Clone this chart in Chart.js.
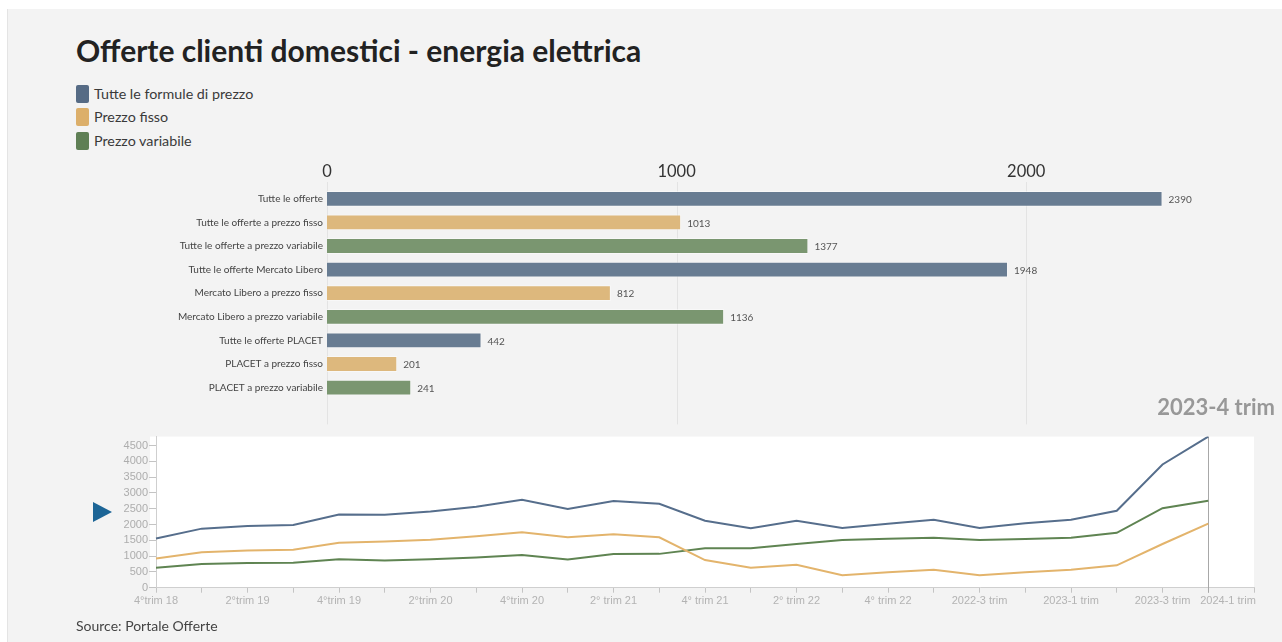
<!DOCTYPE html>
<html>
<head>
<meta charset="utf-8">
<script src="https://cdn.jsdelivr.net/npm/chart.js@4.4.1/dist/chart.umd.min.js"></script>
<style>
  html, body { margin: 0; padding: 0; background: #fff; width: 1282px; height: 642px; overflow: hidden; }
  body { position: relative; font-family: Lato, "Open Sans", sans-serif; color: #333; }
  #panel { position: absolute; left: 7px; top: 9px; width: 1275px; height: 633px; background: #f3f3f3; border-left: 1px solid #e4e4e4; }
  #title { position: absolute; left: 76px; top: 35px; font-size: 30px; font-weight: 700; line-height: 1; color: #222; white-space: nowrap; }
  .leg { position: absolute; left: 76px; height: 18px; font-size: 14.3px; line-height: 18px; color: #3a3a3a; white-space: nowrap; }
  .leg span { display: inline-block; width: 13px; height: 18px; border-radius: 2px; vertical-align: top; margin-right: 5px; }
  #period { position: absolute; right: 7px; top: 396px; font-size: 22px; font-weight: 700; line-height: 1; color: #989898; }
  #play { position: absolute; left: 93px; top: 502px; width: 0; height: 0; border-left: 19px solid #1c6596; border-top: 10px solid transparent; border-bottom: 10px solid transparent; }
  #source { position: absolute; left: 76px; top: 617px; font-size: 14px; line-height: 18px; color: #444; }
  #barBox { position: absolute; left: 0; top: 149px; width: 1282px; height: 285px; }
  #lineBox { position: absolute; left: 0; top: 429px; width: 1282px; height: 195px; }
</style>
</head>
<body>
<div id="panel"></div>
<div id="title">Offerte clienti domestici - energia elettrica</div>
<div class="leg" style="top:85px"><span style="background:#566b85"></span>Tutte le formule di prezzo</div>
<div class="leg" style="top:108px"><span style="background:#dcaf6a"></span>Prezzo fisso</div>
<div class="leg" style="top:132px"><span style="background:#5f7f55"></span>Prezzo variabile</div>
<div id="barBox"><canvas id="barChart"></canvas></div>
<div id="period">2023-4 trim</div>
<div id="play"></div>
<div id="lineBox"><canvas id="lineChart"></canvas></div>
<div id="source">Source: Portale Offerte</div>

<script>
// bar chart values (2023-4 trim)
const barCategories = [
  'Tutte le offerte',
  'Tutte le offerte a prezzo fisso',
  'Tutte le offerte a prezzo variabile',
  'Tutte le offerte Mercato Libero',
  'Mercato Libero a prezzo fisso',
  'Mercato Libero a prezzo variabile',
  'Tutte le offerte PLACET',
  'PLACET a prezzo fisso',
  'PLACET a prezzo variabile'
];
const barValues = [2390, 1013, 1377, 1948, 812, 1136, 442, 201, 241];
const barTicks = [0, 1000, 2000];

// timeline
const periods = [
  '4°trim 18', '1°trim 19', '2°trim 19', '3°trim 19', '4°trim 19',
  '1°trim 20', '2°trim 20', '3°trim 20', '4°trim 20',
  '1° trim 21', '2° trim 21', '3° trim 21', '4° trim 21',
  '1° trim 22', '2° trim 22', '3° trim 22', '4° trim 22',
  '2022-2 trim', '2022-3 trim', '2022-4 trim',
  '2023-1 trim', '2023-2 trim', '2023-3 trim', '2023-4 trim', '2024-1 trim'
];
const currentPeriod = '2023-4 trim';
const timeTicks = [0, 500, 1000, 1500, 2000, 2500, 3000, 3500, 4000, 4500];
const totalLine = [1560, 1870, 1950, 1985, 2317, 2310, 2410, 2566, 2785, 2494, 2743, 2655,
  2122, 1882, 2122, 1893, 2028, 2153, 1893, 2038, 2153, 2434, 3900, 4784, null];
const fixedLine = [925, 1122, 1174, 1205, 1423, 1465, 1517, 1631, 1756, 1600, 1694, 1595,
  874, 634, 728, 395, 489, 572, 395, 489, 572, 707, 1383, 2028, null];
const variableLine = [634, 748, 779, 790, 904, 862, 900, 956, 1039, 894, 1070, 1071,
  1248, 1248, 1383, 1508, 1550, 1581, 1508, 1539, 1581, 1737, 2517, 2756, null];

const barFill = ['#687c92', '#ddb87d', '#7a9670'];
const lineColors = ['#566e8c', '#e3b46c', '#5f8452'];

Chart.defaults.font.family = 'Lato, "Open Sans", sans-serif';
Chart.defaults.animation = false;

const barGrid = {
  id: 'barGrid',
  beforeDatasetsDraw(chart) {
    const { ctx, chartArea, scales: { x } } = chart;
    ctx.save();
    ctx.strokeStyle = '#e3e3e3';
    ctx.lineWidth = 1;
    x.ticks.forEach(t => {
      const px = Math.round(x.getPixelForValue(t.value)) + 0.5;
      ctx.beginPath();
      ctx.moveTo(px, chartArea.top - 5);
      ctx.lineTo(px, chartArea.bottom + 25);
      ctx.stroke();
    });
    ctx.restore();
  },
  afterDatasetsDraw(chart) {
    const { ctx } = chart;
    ctx.save();
    ctx.font = '10px Lato, "Open Sans", sans-serif';
    ctx.fillStyle = '#555';
    ctx.textBaseline = 'middle';
    chart.getDatasetMeta(0).data.forEach((bar, i) => {
      ctx.fillText(barValues[i], bar.x + 6, bar.y + 1);
    });
    ctx.restore();
  }
};

new Chart(document.getElementById('barChart'), {
  type: 'bar',
  data: {
    labels: barCategories,
    datasets: [{
      data: barValues,
      backgroundColor: barCategories.map((c, i) => barFill[i % 3]),
      borderColor: 'rgba(255,255,255,0.45)',
      borderWidth: 1,
      categoryPercentage: 1,
      barPercentage: 0.67
    }]
  },
  options: {
    indexAxis: 'y',
    responsive: true,
    maintainAspectRatio: false,
    layout: { padding: { left: 0, right: 81, top: 0, bottom: 34.6 } },
    plugins: { legend: { display: false }, tooltip: { enabled: false } },
    scales: {
      x: {
        position: 'top',
        min: 0,
        max: 2500,
        afterBuildTicks: scale => { scale.ticks = barTicks.map(v => ({ value: v })); },
        afterFit: scale => { scale.height = 38; },
        grid: { display: false, drawTicks: false, tickLength: 0 },
        border: { display: false },
        ticks: { padding: 5, color: '#333', font: { size: 16.5 }, callback: v => String(v) }
      },
      y: {
        afterFit: scale => { scale.width = 327; },
        grid: { display: false, drawTicks: false, tickLength: 0 },
        border: { display: false },
        ticks: { padding: 4, color: '#444', font: { size: 10 } }
      }
    }
  },
  plugins: [barGrid]
});

const timeDecor = {
  id: 'timeDecor',
  beforeDraw(chart) {
    const { ctx, chartArea } = chart;
    ctx.save();
    ctx.fillStyle = '#ffffff';
    ctx.fillRect(chartArea.left - 6, chartArea.top, chartArea.right - chartArea.left + 6, chartArea.bottom - chartArea.top);
    ctx.restore();
  },
  beforeDatasetsDraw(chart) {
    const { ctx, chartArea, scales: { x } } = chart;
    const px = Math.round(x.getPixelForValue(periods.indexOf(currentPeriod))) + 0.5;
    ctx.save();
    ctx.strokeStyle = '#a8a8a8';
    ctx.lineWidth = 1;
    ctx.beginPath();
    ctx.moveTo(px, chartArea.top);
    ctx.lineTo(px, chartArea.bottom + 5);
    ctx.stroke();
    ctx.restore();
  }
};

const lineDs = (data, color) => ({
  data, borderColor: color, borderWidth: 2, pointRadius: 0, tension: 0, fill: false
});

// last label sits left of its tick, as in the original
const xLabel = function (v, i) {
  if (i % 2 !== 0) return '';
  const lab = this.getLabelForValue(v);
  return i === periods.length - 1 ? lab + '\u00a0'.repeat(17) : lab;
};

new Chart(document.getElementById('lineChart'), {
  type: 'line',
  data: {
    labels: periods,
    datasets: [
      lineDs(totalLine, lineColors[0]),
      lineDs(fixedLine, lineColors[1]),
      lineDs(variableLine, lineColors[2])
    ]
  },
  options: {
    responsive: true,
    maintainAspectRatio: false,
    layout: { padding: { left: 0, right: 28, top: 6, bottom: 0 } },
    plugins: { legend: { display: false }, tooltip: { enabled: false } },
    scales: {
      x: {
        offset: false,
        afterFit: scale => {
          scale.height = 36.3;
          scale.paddingLeft = 0;
          scale.paddingRight = 0;
        },
        grid: { drawOnChartArea: false, drawTicks: true, tickLength: 5, color: '#c4c4c4' },
        border: { display: true, color: '#cfcfcf' },
        ticks: {
          autoSkip: false,
          maxRotation: 0,
          padding: 2,
          color: '#b3b3b3',
          font: { family: '"Liberation Sans", Arial, sans-serif', size: 11 },
          callback: xLabel
        }
      },
      y: {
        min: 0,
        max: Math.max(...totalLine),
        afterBuildTicks: scale => { scale.ticks = timeTicks.map(v => ({ value: v })); },
        afterFit: scale => { scale.width = 156; },
        grid: { drawOnChartArea: false, drawTicks: true, tickLength: 7, color: '#c4c4c4' },
        border: { display: true, color: '#cfcfcf' },
        ticks: {
          autoSkip: false,
          padding: 1,
          color: '#adadad',
          font: { family: '"Liberation Sans", Arial, sans-serif', size: 11 },
          callback: v => String(v)
        }
      }
    }
  },
  plugins: [timeDecor]
});
</script>
</body>
</html>
